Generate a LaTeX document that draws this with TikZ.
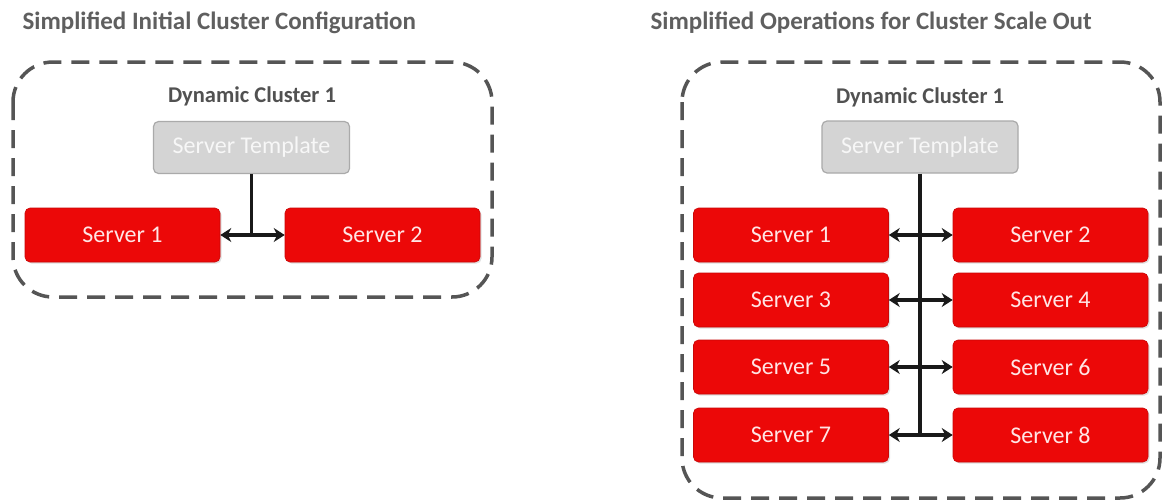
\documentclass[tikz,border=0pt]{standalone}
\usepackage{fontspec}
\setmainfont{Carlito}
\usetikzlibrary{arrows.meta,shadows}
\definecolor{srvred}{RGB}{236,8,8}
\definecolor{tmplgray}{RGB}{212,212,212}
\definecolor{tmplborder}{RGB}{170,170,170}
\definecolor{titlegray}{RGB}{95,95,95}
\definecolor{dashgray}{RGB}{85,85,85}
\tikzset{
  srv/.style={fill=srvred, draw=srvred!85!black, line width=0.6pt, rounded corners=5pt,
    minimum width=195pt, minimum height=54pt, text=white!90!red, font=\fontsize{24}{26}\selectfont,
    drop shadow={shadow xshift=1.5pt, shadow yshift=-1.5pt, opacity=0.25}},
  tmpl/.style={fill=tmplgray, draw=tmplborder, line width=1.2pt, rounded corners=5pt,
    minimum width=196pt, minimum height=52pt, text=white!94!gray, font=\fontsize{24}{26}\selectfont},
  clusterbox/.style={draw=dashgray, line width=3.5pt, dash pattern=on 18pt off 10pt, rounded corners=40pt},
  ptitle/.style={anchor=west, text=titlegray, font=\bfseries\fontsize{25}{28}\selectfont},
  ctitle/.style={text=titlegray!85!black, font=\bfseries\fontsize{22.5}{26}\selectfont},
  link/.style={line width=3.2pt, black!90},
  biarrow/.style={line width=3.2pt, black!90, {Stealth[length=11pt,width=14pt]}-{Stealth[length=11pt,width=14pt]}}
}
\begin{document}
\begin{tikzpicture}[x=1pt,y=-1pt]
\useasboundingbox (0,0) rectangle (1165,499);
\fill[white] (0,0) rectangle (1165,499);

% ---------- left panel ----------
\node[ptitle] (title1) at (19,23) {Simplified Initial Cluster Configuration};
\draw[clusterbox] (13,62) rectangle (492,297);
\node[ctitle] (c1) at (252,96) {Dynamic Cluster 1};
\node[tmpl] (t1) at (251.5,147.5) {Server Template};
\node[srv] (a1) at (122.5,235) {Server 1};
\node[srv] (a2) at (382.5,235) {Server 2};
\coordinate (j1) at (t1.south |- a1.east);
\draw[link] (t1.south) -- (j1);
\draw[biarrow] (a1.east) -- (a2.west);

% ---------- right panel ----------
\node[ptitle] (title2) at (647,23) {Simplified Operations for Cluster Scale Out};
\draw[clusterbox] (682,62) rectangle (1160,498);
\node[ctitle] (c2) at (920,97) {Dynamic Cluster 1};
\node[tmpl] (t2) at (920,147) {Server Template};
\node[srv] (b1) at (791,235) {Server 1};
\node[srv] (b2) at (1050.5,235) {Server 2};
\node[srv] (b3) at (791,300) {Server 3};
\node[srv] (b4) at (1050.5,300) {Server 4};
\node[srv] (b5) at (791,367) {Server 5};
\node[srv] (b6) at (1050.5,367) {Server 6};
\node[srv] (b7) at (791,435) {Server 7};
\node[srv] (b8) at (1050.5,435) {Server 8};
\coordinate (j2) at (t2.south |- b7.east);
\draw[link] (t2.south) -- (j2);
\draw[biarrow] (b1.east) -- (b2.west);
\draw[biarrow] (b3.east) -- (b4.west);
\draw[biarrow] (b5.east) -- (b6.west);
\draw[biarrow] (b7.east) -- (b8.west);
\end{tikzpicture}
\end{document}
